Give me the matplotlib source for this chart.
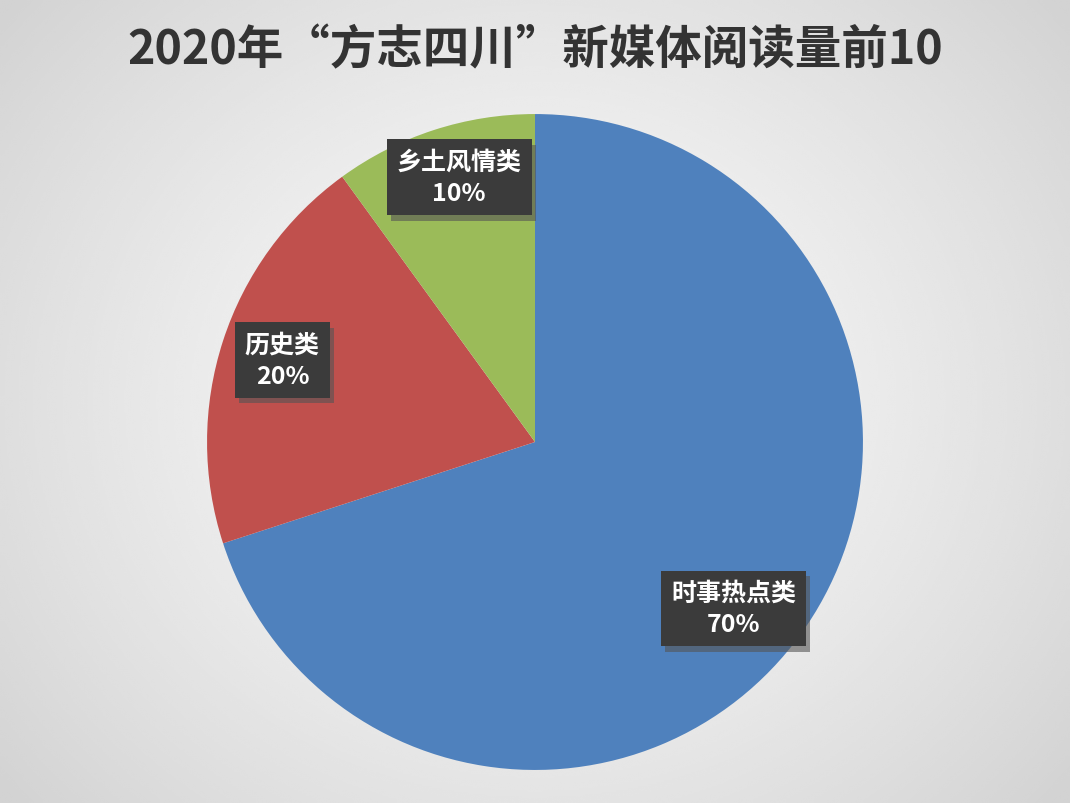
import numpy as np
import matplotlib
matplotlib.use("Agg")
import matplotlib.pyplot as plt
import matplotlib.patheffects as pe

plt.rcParams['font.family'] = ['Noto Sans CJK SC', 'DejaVu Sans']

title = "2020年“方志四川”新媒体阅读量前10"
categories = ["时事热点类", "历史类", "乡土风情类"]
shares = [70, 20, 10]
colors = ["#4f81bd", "#c0504d", "#9bbb59"]

# label placement: radial distance and angle nudge (deg) per wedge
label_dist = [0.79, 0.81, 0.84]
label_turn = [-4, 0, -2]

fig = plt.figure(figsize=(10.7, 8.04), dpi=100)

# radial grey background
bg = fig.add_axes([0, 0, 1, 1], zorder=0)
yy, xx = np.mgrid[-1:1:400j, -1:1:532j]
r = np.sqrt(xx ** 2 + (yy * 0.85) ** 2)
shade = 0.975 - 0.15 * np.clip(r / 1.3, 0, 1) ** 1.4
bg.imshow(shade, cmap="gray", vmin=0, vmax=1, extent=[0, 1, 0, 1],
          aspect="auto", interpolation="bicubic")
bg.set_axis_off()

fig.text(0.5, 0.937, title, ha="center", va="center", fontsize=33.5,
         fontweight="bold", color="#333333")

ax = fig.add_axes([0.1935, 0.041, 0.613, 0.816], zorder=1)
wedges, _ = ax.pie(shares, colors=colors, startangle=90, counterclock=False,
                   radius=1.0, wedgeprops=dict(linewidth=0))
ax.set_xlim(-1, 1)
ax.set_ylim(-1, 1)
ax.set_aspect("equal")
ax.set_axis_off()

for w, name, val, d, turn in zip(wedges, categories, shares, label_dist, label_turn):
    mid = np.deg2rad((w.theta1 + w.theta2) / 2 + turn)
    x, y = d * np.cos(mid), d * np.sin(mid)
    t = ax.text(x, y, f"{name}\n{val}%", ha="center", va="center",
                fontsize=18, fontweight="bold", color="white",
                linespacing=1.4,
                bbox=dict(boxstyle="square,pad=0.4", fc="#3b3b3b", ec="none"))
    t.get_bbox_patch().set_path_effects([
        pe.SimplePatchShadow(offset=(3, -4), shadow_rgbFace="#555555", alpha=0.6),
        pe.Normal()])

fig.savefig("out.png", dpi=100)
